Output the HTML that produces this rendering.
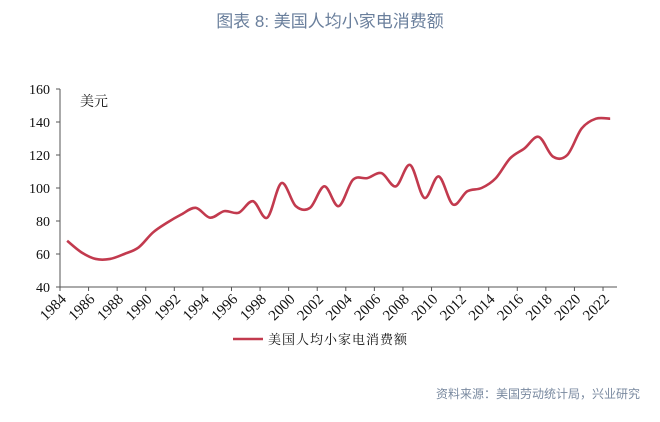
<!DOCTYPE html>
<html><head><meta charset="utf-8"><style>
body{margin:0;background:#fff;width:660px;height:417px;overflow:hidden;font-family:"Liberation Serif","Noto Serif CJK SC",serif;}
</style></head><body>
<svg width="660" height="417" xmlns="http://www.w3.org/2000/svg">
<text x="330" y="27" text-anchor="middle" font-family="Liberation Sans, Noto Sans CJK SC, sans-serif" font-size="17" fill="#6a7f9c">图表  8: 美国人均小家电消费额</text>
<text x="80" y="106" font-size="14" fill="#111">美元</text>
<g id="axes"></g>
<path id="line" fill="none" stroke="#c23a4e" stroke-width="2.6"/>
<line x1="233" y1="339" x2="263" y2="339" stroke="#c23a4e" stroke-width="2.6"/>
<text x="268" y="344" font-size="13" letter-spacing="1" fill="#111">美国人均小家电消费额</text>
<text x="640" y="398" text-anchor="end" font-size="12" font-family="Liberation Sans, Noto Sans CJK SC, sans-serif" fill="#7a8aa0">资料来源：美国劳动统计局，兴业研究</text>
</svg>
<script>
const years=[1984,1985,1986,1987,1988,1989,1990,1991,1992,1993,1994,1995,1996,1997,1998,1999,2000,2001,2002,2003,2004,2005,2006,2007,2008,2009,2010,2011,2012,2013,2014,2015,2016,2017,2018,2019,2020,2021,2022];
const values=[68,61,57,57,60,64,73,79,84,88,82,86,85,92,82,103,89,88,101,89,105,106,109,101,114,94,107,90,98,100,106,118,124,131,119,120,136,142,142];
const yTicks=[40,60,80,100,120,140,160];
const xTicks=[1984,1986,1988,1990,1992,1994,1996,1998,2000,2002,2004,2006,2008,2010,2012,2014,2016,2018,2020,2022];
const X=v=>60+(v-1984)*14.29, Y=v=>287-(v-40)*1.65;
const NS="http://www.w3.org/2000/svg", g=document.getElementById('axes');
function mk(t,a){const e=document.createElementNS(NS,t);for(const k in a)e.setAttribute(k,a[k]);g.appendChild(e);return e;}
let e=mk('line',{x1:60,y1:89,x2:60,y2:287,stroke:'#555'});

e=mk('line',{x1:60,y1:287,x2:617,y2:287,stroke:'#555'});

yTicks.forEach(v=>{mk('line',{x1:56,y1:Y(v),x2:60,y2:Y(v),stroke:'#555'});
 const t=mk('text',{x:50,y:Y(v)+5,'text-anchor':'end','font-size':14,fill:'#111'});t.textContent=v;
 });
xTicks.forEach(v=>{const x=X(v);mk('line',{x1:x,y1:287,x2:x,y2:291,stroke:'#555'});
 const t=mk('text',{x:x+7,y:300,'text-anchor':'end','font-size':15,fill:'#111',transform:`rotate(-45 ${x+7} 300)`});t.textContent=v;
 });
const p=years.map((y,i)=>[X(y+0.5),Y(values[i])]);
let d=`M${p[0][0]},${p[0][1]}`;
for(let i=0;i<p.length-1;i++){const a=p[i-1]||p[i],b=p[i],c=p[i+1],n=p[i+2]||c;
 d+=` C${b[0]+(c[0]-a[0])/6},${b[1]+(c[1]-a[1])/6} ${c[0]-(n[0]-b[0])/6},${c[1]-(n[1]-b[1])/6} ${c[0]},${c[1]}`;}
document.getElementById('line').setAttribute('d',d);
</script>
</body></html>
